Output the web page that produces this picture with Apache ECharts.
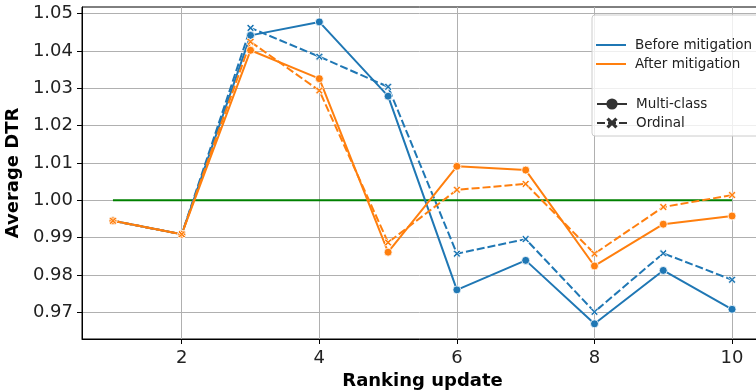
<!DOCTYPE html>
<html>
<head>
<meta charset="utf-8">
<script src="https://cdn.jsdelivr.net/npm/echarts@6/dist/echarts.min.js"></script>
<style>html,body{margin:0;padding:0;background:#fff;}#c{width:756px;height:392px;}</style>
</head>
<body>
<div id="c"></div>
<script>
const rankingUpdates = [1, 2, 3, 4, 5, 6, 7, 8, 9, 10];
const beforeMulti   = [0.9945, 0.9909, 1.0442, 1.0478, 1.0279, 0.9760, 0.9839, 0.9669, 0.9812, 0.9708];
const beforeOrdinal = [0.9945, 0.9909, 1.0462, 1.0385, 1.0304, 0.9857, 0.9896, 0.9701, 0.9858, 0.9787];
const afterMulti    = [0.9945, 0.9909, 1.0402, 1.0326, 0.9861, 1.0091, 1.0081, 0.9824, 0.9936, 0.9958];
const afterOrdinal  = [0.9945, 0.9909, 1.0425, 1.0294, 0.9887, 1.0028, 1.0044, 0.9857, 0.9982, 1.0014];
const referenceLine = [[1, 1.0], [10, 1.0]];
const xTicks = [2, 4, 6, 8, 10];
const yTicks = [0.97, 0.98, 0.99, 1.00, 1.01, 1.02, 1.03, 1.04, 1.05];

const BLUE = '#1f77b4', ORANGE = '#ff7f0e', DARK = '#333333';
const FONT = 'DejaVu Sans';
const XMARK = 'path://M0,2 L2,0 L5,3 L8,0 L10,2 L7,5 L10,8 L8,10 L5,7 L2,10 L0,8 L3,5 Z';
const DASH = [8, 3];

function pairs(arr) { return rankingUpdates.map((x, i) => [x, arr[i]]); }
function mkSeries(name, data, color, dashed) {
  return {
    name: name, type: 'line', data: pairs(data), z: 3,
    symbol: dashed ? XMARK : 'circle', symbolSize: dashed ? 7.5 : 8,
    showSymbol: true,
    lineStyle: { color: color, width: 2, type: dashed ? DASH : 'solid' },
    itemStyle: { color: color, borderColor: '#fff', borderWidth: 0.8 },
    emphasis: { disabled: true }, animation: false
  };
}
function dummy(name, color, symbol, dashed) {
  return {
    name: name, type: 'line', data: [], symbol: symbol, symbolSize: 9,
    lineStyle: { color: color, width: 2, type: dashed ? DASH : 'solid' },
    itemStyle: { color: color }, animation: false
  };
}

const chart = echarts.init(document.getElementById('c'));
chart.setOption({
  animation: false,
  grid: { left: 82, top: 7, right: -7, bottom: 53, outerBoundsMode: 'none', containLabel: false,
    show: true, borderColor: '#000', borderWidth: 1, backgroundColor: 'transparent' },
  xAxis: {
    type: 'value', min: 0.55, max: 10.45,
    name: 'Ranking update', nameLocation: 'middle', nameGap: 32,
    nameTextStyle: { fontFamily: FONT, fontSize: 18, fontWeight: 'bold', color: '#000' },
    axisLine: { show: true, lineStyle: { color: '#000', width: 1 } },
    axisTick: { show: true, length: 5, inside: false, lineStyle: { color: '#000' }, customValues: xTicks },
    axisLabel: { fontFamily: FONT, fontSize: 18, color: '#222', margin: 10, customValues: xTicks },
    splitLine: { show: true, lineStyle: { color: '#b0b0b0', width: 1 } }
  },
  yAxis: {
    type: 'value', min: 0.96283, max: 1.0518,
    name: 'Average DTR', nameLocation: 'middle', nameGap: 60,
    nameTextStyle: { fontFamily: FONT, fontSize: 18, fontWeight: 'bold', color: '#000' },
    axisLine: { show: true, lineStyle: { color: '#000', width: 1 } },
    axisTick: { show: true, length: 5, inside: false, lineStyle: { color: '#000' }, customValues: yTicks },
    axisLabel: { fontFamily: FONT, fontSize: 18, color: '#222', margin: 9, customValues: yTicks,
      formatter: v => v.toFixed(2) },
    splitLine: { show: true, lineStyle: { color: '#b0b0b0', width: 1 } }
  },
  graphic: [{
    type: 'rect', z: 10, silent: true,
    shape: { x: 592, y: 15, width: 172, height: 121, r: 3 },
    style: { fill: 'rgba(255,255,255,0.8)', stroke: '#cccccc', lineWidth: 1 }
  }],
  legend: [{
    z: 20, orient: 'vertical', left: 596, top: 38, padding: 0, itemGap: 5,
    itemWidth: 30, itemHeight: 2, selectedMode: false,
    textStyle: { fontFamily: FONT, fontSize: 13.5, color: '#222', padding: [0, 0, 0, 4] },
    data: [{ name: 'Before mitigation', icon: 'rect' }, { name: 'After mitigation', icon: 'rect' }]
  }, {
    z: 20, orient: 'vertical', left: 596, top: 97, padding: 0, itemGap: 5,
    itemWidth: 30, itemHeight: 14, selectedMode: false,
    textStyle: { fontFamily: FONT, fontSize: 13.5, color: '#222', padding: [0, 0, 0, 4] },
    data: ['Multi-class', 'Ordinal']
  }],
  series: [
    { name: 'ref', type: 'line', data: referenceLine, symbol: 'none', z: 2,
      lineStyle: { color: '#008000', width: 2 }, emphasis: { disabled: true } },
    mkSeries('Before Multi-class', beforeMulti, BLUE, false),
    mkSeries('Before Ordinal', beforeOrdinal, BLUE, true),
    mkSeries('After Multi-class', afterMulti, ORANGE, false),
    mkSeries('After Ordinal', afterOrdinal, ORANGE, true),
    dummy('Before mitigation', BLUE, 'none', false),
    dummy('After mitigation', ORANGE, 'none', false),
    dummy('Multi-class', DARK, 'circle', false),
    dummy('Ordinal', DARK, XMARK, true)
  ]
});
</script>
</body>
</html>
